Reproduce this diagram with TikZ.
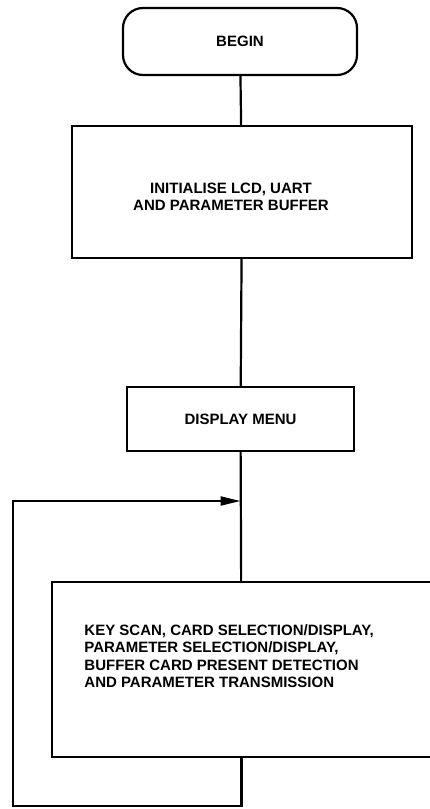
\documentclass[tikz,border=0pt]{standalone}
\usepackage{fontspec}
\setmainfont{Liberation Sans}
\usetikzlibrary{arrows.meta}
\begin{document}
\begin{tikzpicture}[x=1pt, y=-1pt, line width=2.2pt,
  flowbox/.style={draw, inner sep=0pt, outer sep=0pt, align=center},
  flowtext/.style={font=\bfseries\fontsize{15}{17.5}\selectfont}]
\useasboundingbox (0,0) rectangle (429,809);
\node[flowbox, flowtext, rounded corners=20pt, minimum width=234pt, minimum height=67pt] (begin) at (240,41.5) {BEGIN};
\node[flowbox, minimum width=340pt, minimum height=132pt] (init) at (242,192) {};
\node[flowtext, align=center] (inittext) at (231,197) {INITIALISE LCD, UART\\AND PARAMETER BUFFER};
\node[flowbox, flowtext, minimum width=227pt, minimum height=64pt] (menu) at (240.5,419) {DISPLAY MENU};
\node[flowbox, minimum width=379pt, minimum height=175pt] (scan) at (241.5,669.5) {};
\node[flowtext, align=left, anchor=west] (scantext) at (80,656) {KEY SCAN, CARD SELECTION/DISPLAY,\\PARAMETER SELECTION/DISPLAY,\\BUFFER CARD PRESENT DETECTION\\AND PARAMETER TRANSMISSION};
\coordinate (loopbottom) at (13,806);
\coordinate (looptop) at (13,501);
\draw (begin) -- (init);
\draw (init) -- (menu);
\draw (menu) -- (scan);
\draw[-{Triangle[length=20pt,width=9pt]}] (scan.south) |- (loopbottom) -- (looptop) -- (menu.south |- looptop);
\end{tikzpicture}
\end{document}
